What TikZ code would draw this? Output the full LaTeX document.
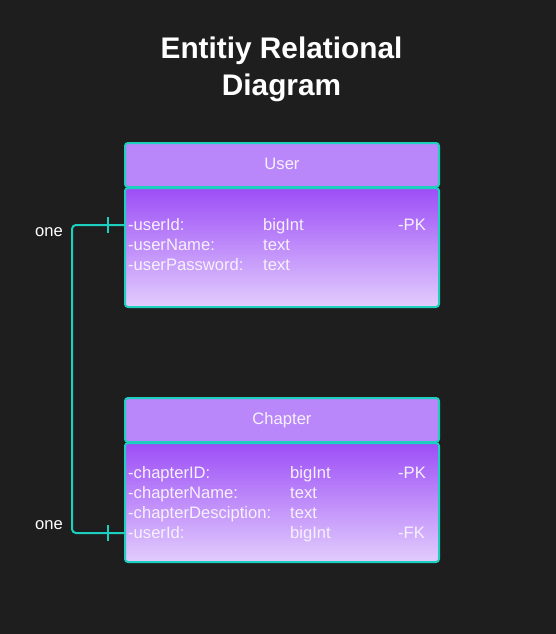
\documentclass[tikz,border=0pt]{standalone}
\usepackage{fontspec}
\setmainfont{Liberation Sans}
\usetikzlibrary{positioning}

\definecolor{bgdark}{HTML}{1E1E1E}
\definecolor{tealline}{HTML}{1CCFBF}
\definecolor{hdrfill}{HTML}{B987F9}
\definecolor{bodytop}{HTML}{9D4EF7}
\definecolor{bodybot}{HTML}{E2CDFD}
\definecolor{txtlight}{HTML}{F6F1FF}

\tikzset{
  tblhead/.style={draw=tealline, line width=2pt, rounded corners=3pt, fill=hdrfill,
    minimum width=314pt, minimum height=44pt, inner sep=0pt, anchor=north west,
    text=txtlight, font=\fontsize{16.6}{20}\selectfont, text height=12pt, text depth=3pt},
  tblbody/.style={draw=tealline, line width=2pt, rounded corners=3pt,
    top color=bodytop, bottom color=bodybot,
    minimum width=314pt, minimum height=119pt, inner sep=0pt, anchor=north west},
  field/.style={inner sep=0pt, anchor=base west, text=txtlight,
    font=\fontsize{16.6}{20}\selectfont},
  rel/.style={draw=tealline, line width=2pt, rounded corners=4pt},
  card/.style={inner sep=0pt, anchor=base west, text=white,
    font=\fontsize{16.6}{20}\selectfont}
}

\begin{document}
\begin{tikzpicture}[x=1pt,y=-1pt]

\fill[bgdark] (0,0) rectangle (556,634);
\useasboundingbox (0,0) rectangle (556,634);

\node[text=white, font=\fontsize{29.8}{36}\selectfont\bfseries, align=center, anchor=base]
  (title) at (281.5,95) {Entitiy Relational\\Diagram};

% User table
\node[tblhead] (userhead) at (124,142) {User};
\node[tblbody] (userbody) at (124,187) {};
\node[field] (uid) at (128,230) {-userId:};
\node[field] (uname) at (128,250) {-userName:};
\node[field] (upass) at (128,270) {-userPassword:};
\node[field] (uidtype) at (263,230) {bigInt};
\node[field] (unametype) at (263,250) {text};
\node[field] (upasstype) at (263,270) {text};
\node[field] (uidkey) at (398,230) {-PK};

% Chapter table
\node[tblhead] (chaphead) at (124,397) {Chapter};
\node[tblbody] (chapbody) at (124,442) {};
\node[field] (cid) at (128,478) {-chapterID:};
\node[field] (cname) at (128,498) {-chapterName:};
\node[field] (cdesc) at (128,518) {-chapterDesciption:};
\node[field] (cuid) at (128,538) {-userId:};
\node[field] (cidtype) at (290,478) {bigInt};
\node[field] (cnametype) at (290,498) {text};
\node[field] (cdesctype) at (290,518) {text};
\node[field] (cuidtype) at (290,538) {bigInt};
\node[field] (cidkey) at (398,478) {-PK};
\node[field] (cuidkey) at (398,538) {-FK};

% relation
\coordinate (uend) at (userbody.west |- 0,225);
\coordinate (cend) at (chapbody.west |- 0,533);
\draw[rel] (uend) -- (72,225) -- (72,533) -- (cend);
\draw[rel, rounded corners=0pt] (108,217) -- (108,233);
\draw[rel, rounded corners=0pt] (108,525) -- (108,541);

\node[card] (onetop) at (35,236) {one};
\node[card] (onebot) at (35,529) {one};

\end{tikzpicture}
\end{document}
